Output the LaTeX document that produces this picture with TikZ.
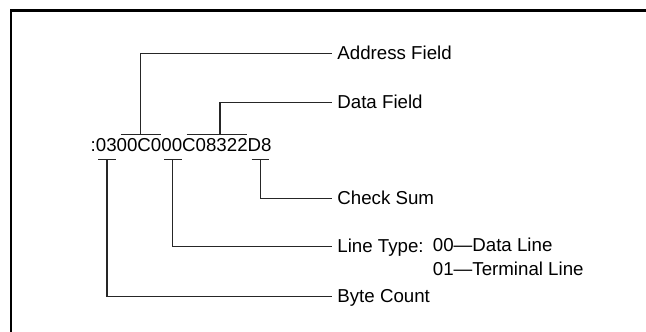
\documentclass[tikz,border=0pt]{standalone}
\usepackage{fontspec}
\setmainfont{Liberation Sans}
\usepackage{tikz}

\tikzset{
  bigtext/.style={font=\fontsize{18.7}{22}\selectfont},
  field/.style={bigtext, anchor=west, inner xsep=5.5pt, inner ysep=0pt,
    text height=12pt, text depth=0pt},
  codes/.style={bigtext, anchor=base west, inner sep=0pt},
  lead/.style={line width=1.1pt, draw=black!85},
}

\begin{document}
\begin{tikzpicture}[x=1pt, y=-1pt]
  \useasboundingbox (0,0) rectangle (646,332);

  % Frame
  \draw[line width=2.2pt] (11,332) -- (11,10.5) -- (646,10.5);

  % Record
  \node[bigtext, anchor=base west, inner sep=0pt] (rec) at (90.5,151.7) {:0300C000C08322D8};

  % Labels
  \node[field] (addr) at (331.7,53.3) {Address Field};
  \node[field] (data) at (331.7,102.7) {Data Field};
  \node[field] (chk) at (331.7,198.3) {Check Sum};
  \node[field] (ltype) at (331.7,246.7) {Line Type:};
  \node[codes] (code0) at (432.7,251.7) {00---Data Line};
  \node[codes] (code1) at (432.7,275) {01---Terminal Line};
  \node[field] (bytes) at (331.7,296.7) {Byte Count};

  % Bars above
  \draw[lead] (120.7,134.5) -- (160.7,134.5);
  \draw[lead] (186.7,134.5) -- (247.3,134.5);

  % Bars below
  \draw[lead] (98.3,159.3) -- (115.7,159.3);
  \draw[lead] (164.3,159.3) -- (181.7,159.3);
  \draw[lead] (251.7,159.3) -- (269,159.3);

  % Leaders
  \draw[lead] (140.7,134.5) |- (addr.west);
  \draw[lead] (220,134.5) |- (data.west);
  \draw[lead] (260.5,159.3) |- (chk.west);
  \draw[lead] (172.7,159.3) |- (ltype.west);
  \draw[lead] (107,159.3) |- (bytes.west);
\end{tikzpicture}
\end{document}
